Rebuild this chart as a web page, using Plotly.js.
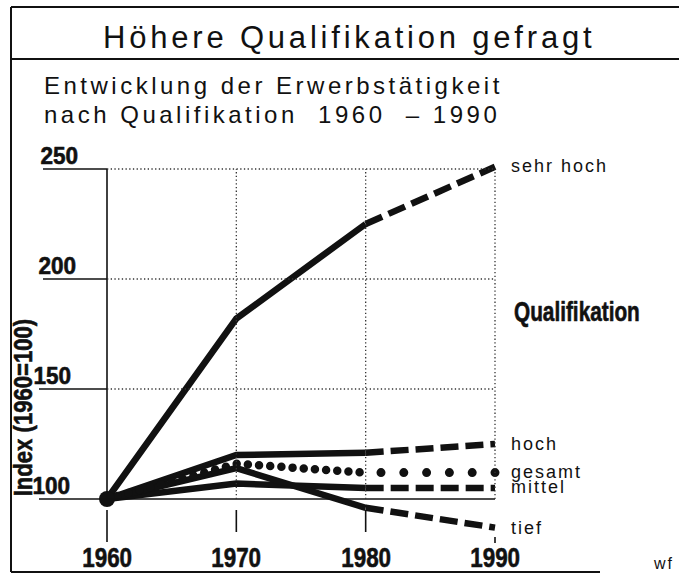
<!DOCTYPE html>
<html>
<head>
<meta charset="utf-8">
<script src="https://cdn.plot.ly/plotly-3.0.1.min.js"></script>
<style>
  html, body { margin: 0; padding: 0; background: #ffffff; }
  #chart { width: 679px; height: 573px; }
</style>
</head>
<body>
<div id="chart"></div>
<script>
// ---- data ----
const years = [1960, 1970, 1980, 1990];
const yTicks = [100, 150, 200, 250];
const sehrHoch = [100, 182, 225, 251];
const hoch = [100, 120, 121, 125];
const gesamt = [100, 116, 112, 112];
const mittel = [100, 107, 105, 105];
const tief = [100, 114, 96, 87];
const seriesNames = ['sehr hoch', 'hoch', 'gesamt', 'mittel', 'tief'];
const titleText = 'Höhere Qualifikation gefragt';
const subtitle1 = 'Entwicklung der Erwerbstätigkeit';
const subtitle2 = 'nach Qualifikation  1960  – 1990';
const yTitle = 'Index (1960=100)';
const legendTitle = 'Qualifikation';
const sourceText = 'wf';

// ---- geometry ----
const W = 679, H = 573;
const X0PX = 107, X1PX = 495, YBPX = 499, YTPX = 169;
const kx = (X1PX - X0PX) / (years[3] - years[0]);
const ky = (YBPX - YTPX) / (yTicks[3] - yTicks[0]);
const xRange = [years[0] - X0PX / kx, years[0] + (W - X0PX) / kx];
const yRange = [yTicks[0] - (H - YBPX) / ky, yTicks[0] + YBPX / ky];
const px = v => v / W;
const py = v => 1 - v / H;

const INK = '#111111';
const LW = 6.5;
const BOLD = '"Liberation Sans", Arial, Helvetica, sans-serif';
const SANS = '"Liberation Sans", Arial, Helvetica, sans-serif';

// ---- traces ----
const traces = [];
function solidDash(vals, name) {
  traces.push({x: years.slice(0, 3), y: vals.slice(0, 3), mode: 'lines', name: name,
    line: {color: INK, width: LW}});
  traces.push({x: years.slice(2), y: vals.slice(2), mode: 'lines', name: name,
    line: {color: INK, width: LW, dash: '18px,7px'}});
}
solidDash(sehrHoch, seriesNames[0]);
solidDash(hoch, seriesNames[1]);
solidDash(mittel, seriesNames[3]);
solidDash(tief, seriesNames[4]);
const dotStart = traces.length;
traces.push({x: years.slice(0, 3), y: gesamt.slice(0, 3), mode: 'lines', name: seriesNames[2],
  line: {color: INK, width: 8.5, dash: '0px,11.2px'}});
// drawn from 1990 back to 1980 so the sparse dots start at the line end
traces.push({x: years.slice(2).reverse(), y: gesamt.slice(2).reverse(), mode: 'lines', name: seriesNames[2],
  line: {color: INK, width: 9, dash: '0px,22.8px'}});
traces.push({x: [years[0]], y: [sehrHoch[0]], mode: 'markers',
  marker: {color: INK, size: 16}});

// ---- shapes ----
const shapes = [];
const thin = {color: INK, width: 1.6};
const dotted = {color: '#333', width: 1.3, dash: '1.3px,2.4px'};
// frame
shapes.push({type: 'line', xref: 'paper', yref: 'paper', x0: px(11), x1: px(11), y0: py(7), y1: py(572), line: {color: INK, width: 2}});
shapes.push({type: 'line', xref: 'paper', yref: 'paper', x0: px(11), x1: 1, y0: py(7), y1: py(7), line: {color: INK, width: 2}});
shapes.push({type: 'line', xref: 'paper', yref: 'paper', x0: px(11), x1: 1, y0: py(59), y1: py(59), line: {color: INK, width: 2}});
shapes.push({type: 'line', xref: 'paper', yref: 'paper', x0: px(11), x1: px(600), y0: py(572), y1: py(572), line: {color: INK, width: 2}});
// y axis line
shapes.push({type: 'line', xref: 'x', yref: 'y', x0: years[0], x1: years[0], y0: yTicks[0], y1: yTicks[3], line: thin});
// baseline at 100
shapes.push({type: 'line', xref: 'x', yref: 'y', x0: years[0], x1: years[3], y0: yTicks[0], y1: yTicks[0], line: thin});
// label underlines and dotted grid
yTicks.forEach((v, i) => {
  shapes.push({type: 'line', xref: 'x', yref: 'y', xsizemode: 'pixel', xanchor: years[0],
    x0: i < 2 ? -68 : -64, x1: 0, y0: v, y1: v, line: thin});
  if (i > 0) {
    shapes.push({type: 'line', xref: 'x', yref: 'y', x0: years[0], x1: years[3], y0: v, y1: v, line: dotted});
  }
});
years.slice(1).forEach(yr => {
  shapes.push({type: 'line', xref: 'x', yref: 'y', x0: yr, x1: yr, y0: yTicks[0], y1: yTicks[3], line: dotted});
});
// ticks below baseline
years.forEach((yr, i) => {
  const a = i === 3 ? -38 : -11;
  const b = i === 0 ? -43 : (i === 3 ? -44 : -33);
  shapes.push({type: 'line', xref: 'x', yref: 'y', ysizemode: 'pixel', yanchor: yTicks[0],
    x0: yr, x1: yr, y0: a, y1: b, line: thin});
});

// ---- annotations ----
const ann = [];
ann.push({text: titleText, xref: 'paper', yref: 'paper', x: px(101), y: py(37), xanchor: 'left', yanchor: 'middle', align: 'left',
  showarrow: false, font: {family: SANS, size: 31, color: INK}});
ann.push({text: subtitle1, xref: 'paper', yref: 'paper', x: px(42), y: py(85), xanchor: 'left', yanchor: 'middle', align: 'left',
  showarrow: false, font: {family: SANS, size: 24, color: INK}});
ann.push({text: subtitle2, xref: 'paper', yref: 'paper', x: px(42), y: py(115), xanchor: 'left', yanchor: 'middle', align: 'left',
  showarrow: false, font: {family: SANS, size: 24, color: INK}});
const yLabShift = [-35, -34, -29, -27];
yTicks.forEach((v, i) => {
  ann.push({text: String(v), xref: 'x', yref: 'y', x: years[0], y: v, xanchor: 'right', yanchor: 'middle', align: 'right',
    xshift: yLabShift[i], yshift: 14, showarrow: false, font: {family: BOLD, size: 24, weight: 'bold', color: INK}});
});
years.forEach(yr => {
  ann.push({text: String(yr), xref: 'x', yref: 'y', x: yr, y: yTicks[0], xanchor: 'center', yanchor: 'middle',
    yshift: -58, showarrow: false, font: {family: BOLD, size: 28, weight: 'bold', color: INK}});
});
const ends = [sehrHoch, hoch, gesamt, mittel, tief];
const endShift = [1, 0, 1, 1, 0];
ends.forEach((s, i) => {
  ann.push({text: seriesNames[i], xref: 'x', yref: 'y', x: years[3], y: s[3], xanchor: 'left', yanchor: 'middle', align: 'left',
    xshift: 14, yshift: endShift[i], showarrow: false, font: {family: SANS, size: 18, color: INK}});
});
ann.push({text: legendTitle, xref: 'paper', yref: 'paper', x: px(512), y: py(312), xanchor: 'left', yanchor: 'middle', align: 'left',
  showarrow: false, font: {family: BOLD, size: 27, weight: 'bold', color: INK}});
ann.push({text: yTitle, xref: 'paper', yref: 'paper', x: px(23), y: py(408), xanchor: 'center', yanchor: 'middle',
  textangle: -90, showarrow: false, font: {family: BOLD, size: 26, weight: 'bold', color: INK}});
ann.push({text: sourceText, xref: 'paper', yref: 'paper', x: px(651), y: py(563), xanchor: 'left', yanchor: 'middle', align: 'left',
  showarrow: false, font: {family: SANS, size: 16, color: INK}});

const layout = {
  width: W, height: H,
  margin: {l: 0, r: 0, t: 0, b: 0, pad: 0},
  paper_bgcolor: '#ffffff', plot_bgcolor: 'rgba(0,0,0,0)',
  showlegend: false,
  xaxis: {range: xRange, visible: false, fixedrange: true},
  yaxis: {range: yRange, visible: false, fixedrange: true},
  shapes: shapes,
  annotations: ann
};

// text styling applied after render: tracking, condensed widths, heavier strokes
const spacing = {};
spacing[titleText] = 3.8;
spacing[subtitle1] = 3.5;
spacing[subtitle2] = 3.5;
seriesNames.forEach(n => spacing[n] = 2);
spacing[sourceText] = 2;
const squeeze = {};
yTicks.forEach(v => squeeze[String(v)] = [0.94, 'right center']);
years.forEach(yr => squeeze[String(yr)] = [0.8, 'center center']);
squeeze[legendTitle] = [0.77, 'left center'];
squeeze[yTitle] = [0.85, 'center center'];

Plotly.newPlot('chart', traces, layout, {staticPlot: true, displayModeBar: false}).then(() => {
  const tr = document.querySelectorAll('.scatterlayer .trace');
  [dotStart, dotStart + 1].forEach(i => {
    const p = tr[i] && tr[i].querySelector('path.js-line');
    if (p) p.style.strokeLinecap = 'round';
  });
  document.querySelectorAll('.annotation-text').forEach(t => {
    const key = t.textContent;
    if (spacing[key]) t.style.letterSpacing = spacing[key] + 'px';
    if (squeeze[key]) {
      t.style.transformBox = 'fill-box';
      t.style.transformOrigin = squeeze[key][1];
      t.style.transform = 'scaleX(' + squeeze[key][0] + ')';
      t.style.stroke = INK;
      t.style.strokeWidth = '0.6px';
      t.style.strokeLinejoin = 'round';
    }
  });
});
</script>
</body>
</html>
